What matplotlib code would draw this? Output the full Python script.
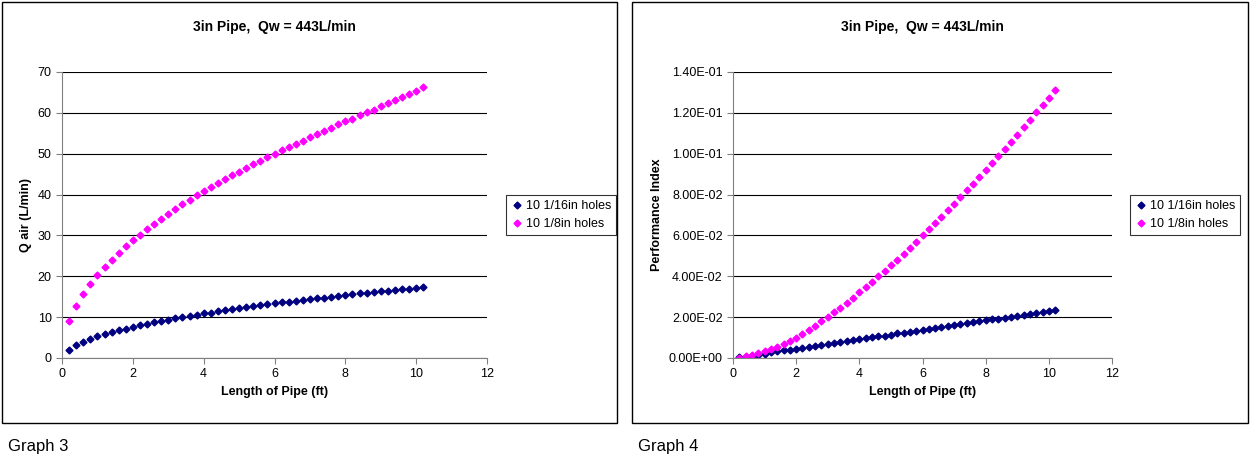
import matplotlib
matplotlib.use("Agg")
import matplotlib.pyplot as plt
from matplotlib.patches import Rectangle
from matplotlib.ticker import FuncFormatter

plt.rcParams['font.family'] = ['Liberation Sans', 'DejaVu Sans']

length = [round(0.2 * i, 1) for i in range(1, 52)]

qair_16 = [2.0, 3.2, 4.0, 4.7, 5.3, 5.8, 6.3, 6.8, 7.2, 7.6, 8.0, 8.4, 8.7, 9.0, 9.4, 9.7, 10.0,
           10.3, 10.6, 10.9, 11.1, 11.4, 11.7, 11.9, 12.2, 12.4, 12.7, 12.9, 13.1, 13.4, 13.6,
           13.8, 14.0, 14.2, 14.4, 14.6, 14.8, 15.0, 15.2, 15.4, 15.6, 15.8, 16.0, 16.2, 16.3,
           16.5, 16.7, 16.9, 17.0, 17.2, 17.4]
qair_8 = [9.0, 12.8, 15.7, 18.2, 20.3, 22.2, 24.0, 25.7, 27.3, 28.8, 30.2, 31.6, 32.9, 34.1,
          35.3, 36.5, 37.6, 38.7, 39.8, 40.8, 41.8, 42.8, 43.8, 44.7, 45.6, 46.5, 47.4, 48.3,
          49.1, 50.0, 50.8, 51.6, 52.4, 53.2, 54.0, 54.8, 55.6, 56.4, 57.2, 57.9, 58.6, 59.4,
          60.1, 60.8, 61.6, 62.3, 63.1, 63.8, 64.6, 65.4, 66.3]
perf_16 = [0.0003, 0.0007, 0.0012, 0.0017, 0.0022, 0.0027, 0.0032, 0.0037, 0.0041, 0.0046,
           0.0051, 0.0055, 0.0060, 0.0064, 0.0069, 0.0074, 0.0078, 0.0083, 0.0087, 0.0092,
           0.0097, 0.0101, 0.0106, 0.0110, 0.0115, 0.0120, 0.0124, 0.0129, 0.0133, 0.0138,
           0.0143, 0.0147, 0.0152, 0.0156, 0.0161, 0.0166, 0.0170, 0.0175, 0.0179, 0.0184,
           0.0189, 0.0193, 0.0198, 0.0202, 0.0207, 0.0212, 0.0216, 0.0221, 0.0225, 0.0230,
           0.0235]
perf_8 = [0.0002, 0.0008, 0.0015, 0.0025, 0.0035, 0.0045, 0.0056, 0.0068, 0.0082, 0.0098,
          0.0117, 0.0137, 0.0158, 0.0180, 0.0202, 0.0224, 0.0247, 0.0271, 0.0296, 0.0321,
          0.0346, 0.0372, 0.0399, 0.0426, 0.0454, 0.0482, 0.0511, 0.0540, 0.0570, 0.0600,
          0.0630, 0.0661, 0.0692, 0.0724, 0.0756, 0.0788, 0.0821, 0.0854, 0.0887, 0.0921,
          0.0955, 0.0989, 0.1024, 0.1059, 0.1094, 0.1130, 0.1166, 0.1202, 0.1238, 0.1275,
          0.1312]

W, H = 1250, 466
fig = plt.figure(figsize=(12.5, 4.66), dpi=100)


def px(x0, y0, x1, y1):
    return [x0 / W, 1 - y1 / H, (x1 - x0) / W, (y1 - y0) / H]


def panel(box, ax_rect, s1, s2, ylim, yticks, ylabel, fmt, caption):
    bx0, bx1 = box
    fig.patches.append(Rectangle((bx0 / W, 1 - 423 / H), (bx1 - bx0) / W, 421 / H,
                                 transform=fig.transFigure, fill=False, ec='black', lw=1))
    ax = fig.add_axes(px(*ax_rect))
    ax.plot(length, s1, 'D', color='#000080', ms=3.5, label='10 1/16in holes')
    ax.plot(length, s2, 'D', color='#FF00FF', ms=3.5, label='10 1/8in holes')
    ax.set_xlim(0, 12)
    ax.set_xticks(range(0, 13, 2))
    ax.set_ylim(*ylim)
    ax.set_yticks(yticks)
    ax.yaxis.set_major_formatter(FuncFormatter(fmt))
    ax.yaxis.grid(True, color='black', lw=0.8)
    ax.set_axisbelow(True)
    for sp in ['top', 'right']:
        ax.spines[sp].set_visible(False)
    ax.spines['left'].set_color('#808080')
    ax.spines['bottom'].set_color('#808080')
    ax.tick_params(labelsize=9, length=4, color='#808080')
    ax.set_xlabel('Length of Pipe (ft)', fontsize=9, fontweight='bold')
    ax.set_ylabel(ylabel, fontsize=9, fontweight='bold')
    cx = (ax_rect[0] + ax_rect[2]) / 2
    fig.text(cx / W, 1 - 27 / H, '3in Pipe,  Qw = 443L/min', ha='center', va='center',
             fontsize=10, fontweight='bold')
    leg = ax.legend(loc='center left', bbox_to_anchor=(1.03, 0.5), fontsize=9,
                    frameon=True, fancybox=False, edgecolor='black', handletextpad=0.2,
                    borderpad=0.4, handlelength=1)
    leg.get_frame().set_linewidth(0.8)
    fig.text((bx0 + 6) / W, 1 - 447 / H, caption, ha='left', va='center', fontsize=12)
    return ax


panel((2, 617), (62, 72, 487, 358), qair_16, qair_8, (0, 70), range(0, 71, 10),
      'Q air (L/min)', lambda v, p: f'{v:.0f}', 'Graph 3')
panel((632, 1248), (733, 72, 1112, 358), perf_16, perf_8, (0, 0.14),
      [0.02 * i for i in range(8)], 'Performance Index',
      lambda v, p: f'{v:.2E}'.replace('E-0', 'E-0').replace('E+00', 'E+00'), 'Graph 4')

fig.savefig('out.png', dpi=100)
